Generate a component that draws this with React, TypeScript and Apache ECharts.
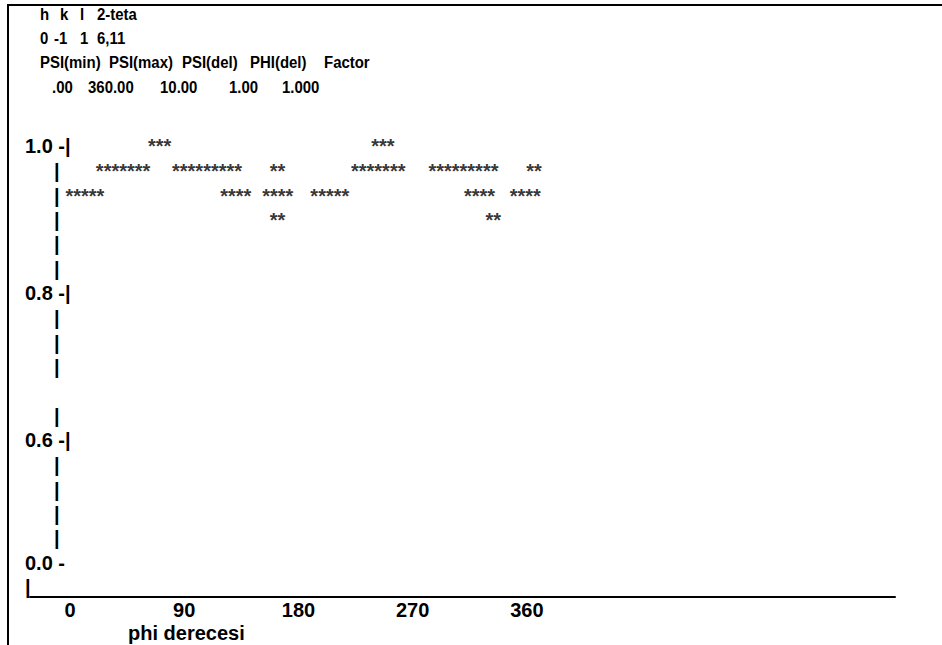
import React, { useEffect, useRef } from 'react';
import * as echarts from 'echarts';

// Header block (text from the reference)
const hklLabels = ['h', 'k', 'l', '2-teta'];
const hklValues = ['0', '-1', '1', '6,11'];
const paramLabels = ['PSI(min)', 'PSI(max)', 'PSI(del)', 'PHI(del)', 'Factor'];
const paramValues = ['.00', '360.00', '10.00', '1.00', '1.000'];

// Axes
const xTickValues = [0, 90, 180, 270, 360];
const xAxisTitle = 'phi derecesi';
const yTickValues = [1.0, 0.8, 0.6, 0.0];
const yTickLabels = ['1.0 -|', '0.8 -|', '0.6 -|', '0.0 -'];
const yGuideRows = [0.967, 0.933, 0.9, 0.867, 0.833, 0.767, 0.733, 0.7, 0.633, 0.567, 0.533, 0.5, 0.467];
const yBaseRow = [-0.033];

// Star plot: intensity levels, start phi of each run of stars, and run lengths
const intensityLevels = [1.0, 0.967, 0.933, 0.9];
const runStartPhi = [
  [61, 237],
  [20, 80, 157, 221, 282, 359],
  [-4, 118, 151, 189, 310, 346],
  [157, 327],
];
const runLength = [
  [3, 3],
  [7, 9, 2, 7, 9, 2],
  [5, 4, 4, 5, 4, 4],
  [2, 2],
];

const FONT = '"Liberation Sans", Arial, sans-serif';

export default function App() {
  const ref = useRef<HTMLDivElement>(null);
  useEffect(() => {
    if (!ref.current) return;
    const chart = echarts.init(ref.current, undefined, { renderer: 'svg' });

    const starData: any[] = [];
    intensityLevels.forEach((lv, i) => {
      runStartPhi[i].forEach((phi, j) => {
        starData.push([phi, lv, runLength[i][j]]);
      });
    });

    const headerFont = `bold 17px ${FONT}`;
    const plotFont = `bold 20px ${FONT}`;
    const txt = (text: string, x: number, y: number, font: string, sx = 1) => ({
      type: 'text',
      x,
      y,
      scaleX: sx,
      silent: true,
      style: { text, font, fill: '#000', verticalAlign: 'middle', align: 'left' },
    });
    const hklX = [40, 60, 80, 97];
    const hklVX = [40, 54, 80, 97];
    const parX = [40, 109, 182, 250, 324];
    const parVX = [52, 88, 160, 229, 282];
    const HS = 0.88;

    const graphics: any[] = [
      { type: 'line', silent: true, shape: { x1: 7, y1: 5, x2: 942, y2: 5 }, style: { stroke: '#000', lineWidth: 2 } },
      { type: 'line', silent: true, shape: { x1: 8, y1: 4, x2: 8, y2: 645 }, style: { stroke: '#000', lineWidth: 2 } },
      ...hklLabels.map((t, i) => txt(t, hklX[i], 14, headerFont, HS)),
      ...hklValues.map((t, i) => txt(t, hklVX[i], 38, headerFont, HS)),
      ...paramLabels.map((t, i) => txt(t, parX[i], 62, headerFont, HS)),
      ...paramValues.map((t, i) => txt(t, parVX[i], 87, headerFont, HS)),
      txt(xAxisTitle, 128, 633, plotFont),
    ];

    const yLabelValues = [...yTickValues, ...yGuideRows, ...yBaseRow];

    chart.setOption({
      animation: false,
      backgroundColor: '#fff',
      grid: { left: 30, right: 47, top: 117, bottom: 48, containLabel: false, outerBoundsMode: 'none' },
      xAxis: {
        type: 'value',
        min: -31.5,
        max: 650,
        axisLine: { show: true, onZero: false, lineStyle: { color: '#000', width: 2 } },
        axisTick: { show: false },
        splitLine: { show: false },
        axisLabel: {
          customValues: xTickValues,
          color: '#000',
          fontSize: 20,
          fontWeight: 'bold',
          fontFamily: FONT,
          margin: 3,
        },
      },
      yAxis: {
        type: 'value',
        min: -0.0464,
        max: 1.04,
        breaks: [{ start: 0.0, end: 0.4333, gap: 0 }],
        breakArea: { show: false },
        axisLine: { show: false },
        axisTick: { show: false },
        splitLine: { show: false },
        axisLabel: {
          inside: true,
          margin: -5,
          customValues: yLabelValues,
          color: '#000',
          fontSize: 20,
          fontWeight: 'bold',
          fontFamily: FONT,
          formatter: (v: number) => {
            const idx = yTickValues.findIndex((t) => Math.abs(t - v) < 1e-6);
            if (idx >= 0) return yTickLabels[idx];
            if (yBaseRow.some((t) => Math.abs(t - v) < 1e-6)) return '|';
            return '{bar||}';
          },
          rich: {
            bar: { padding: [0, 0, 0, 29], fontSize: 20, fontWeight: 'bold', fontFamily: FONT, color: '#000' },
          },
        },
      },
      graphic: graphics,
      series: [
        {
          type: 'scatter',
          data: starData,
          symbol: 'circle',
          symbolSize: 1,
          silent: true,
          itemStyle: { color: 'rgba(0,0,0,0)' },
          label: {
            show: true,
            position: 'right',
            distance: 0,
            formatter: (p: any) => '*'.repeat(p.data[2]),
            color: '#000',
            fontSize: 20,
            fontWeight: 'bold',
            fontFamily: FONT,
          },
          labelLayout: { hideOverlap: false },
        },
      ],
    });
    return () => chart.dispose();
  }, []);
  return (
    <div
      ref={ref}
      style={{ position: 'absolute', left: 0, top: 0, width: 942, height: 645, background: '#fff' }}
    />
  );
}
